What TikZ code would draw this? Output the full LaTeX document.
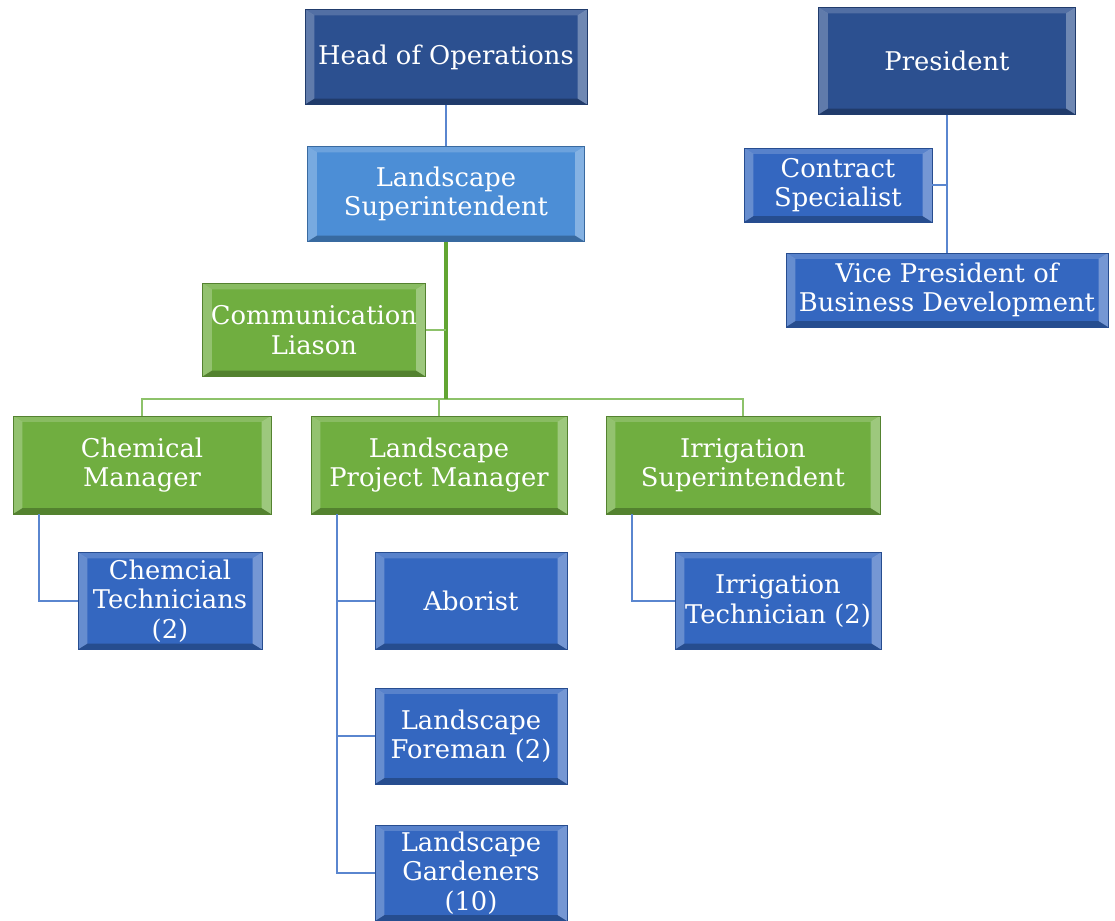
\documentclass[tikz,border=0pt]{standalone}
\usepackage{fontspec}
\setmainfont{DejaVu Serif}
\definecolor{darkblue}{HTML}{2C5090}
\definecolor{lightblue}{HTML}{4C8ED6}
\definecolor{midblue}{HTML}{3467C0}
\definecolor{leafgreen}{HTML}{70AE40}
\definecolor{blueline}{HTML}{5A86CF}
\definecolor{greenline}{HTML}{62A532}
\definecolor{palegreen}{HTML}{8DC26A}
\tikzset{
  bevel/.style={path picture={
    \fill[white,opacity=.18] (path picture bounding box.north west) -- (path picture bounding box.north east)
      -- ([xshift=-8pt,yshift=-5pt]path picture bounding box.north east) -- ([xshift=8pt,yshift=-5pt]path picture bounding box.north west) -- cycle;
    \fill[white,opacity=.25] (path picture bounding box.north west) -- ([xshift=8pt,yshift=-5pt]path picture bounding box.north west)
      -- ([xshift=8pt,yshift=5pt]path picture bounding box.south west) -- (path picture bounding box.south west) -- cycle;
    \fill[white,opacity=.32] (path picture bounding box.north east) -- ([xshift=-8pt,yshift=-5pt]path picture bounding box.north east)
      -- ([xshift=-8pt,yshift=5pt]path picture bounding box.south east) -- (path picture bounding box.south east) -- cycle;
    \fill[black,opacity=.25] (path picture bounding box.south west) -- (path picture bounding box.south east)
      -- ([xshift=-8pt,yshift=5pt]path picture bounding box.south east) -- ([xshift=8pt,yshift=5pt]path picture bounding box.south west) -- cycle;
  }},
  orgbox/.style={draw=#1!75!black, fill=#1, text=white, align=center, inner sep=0pt,
    font=\fontsize{22}{25}\selectfont, bevel},
  size/.style 2 args={minimum width=#1*0.03cm, minimum height=#2*0.03cm},
  bline/.style={draw=blueline, line width=1.7pt},
  gline/.style={draw=greenline, line width=3pt},
  pgline/.style={draw=palegreen, line width=1.7pt}
}
\begin{document}
\begin{tikzpicture}[x=0.03cm,y=-0.03cm]
\useasboundingbox (0,0) rectangle (1115,921);

\node[orgbox=darkblue, size={282}{95}] (head) at (446,57) {Head of Operations};
\node[orgbox=lightblue, size={277}{95}] (ls) at (446,194) {Landscape\\Superintendent};
\node[orgbox=darkblue, size={257}{107}] (pres) at (947,61) {President};
\node[orgbox=midblue, size={188}{74}] (cs) at (838,185) {Contract\\Specialist};
\node[orgbox=midblue, size={322}{74}] (vp) at (947,290) {Vice President of\\Business Development};
\node[orgbox=leafgreen, size={223}{93}] (cl) at (314,330) {Communication\\Liason};
\node[orgbox=leafgreen, size={258}{98}] (cm) at (142,465) {Chemical\\Manager};
\node[orgbox=leafgreen, size={256}{98}] (lpm) at (439,465) {Landscape\\Project Manager};
\node[orgbox=leafgreen, size={274}{98}] (is) at (743,465) {Irrigation\\Superintendent};
\node[orgbox=midblue, size={184}{97}] (ct) at (170,601) {Chemcial\\Technicians\\(2)};
\node[orgbox=midblue, size={192}{97}] (ab) at (471,601) {Aborist};
\node[orgbox=midblue, size={206}{97}] (it) at (778,601) {Irrigation\\Technician (2)};
\node[orgbox=midblue, size={192}{96}] (lf) at (471,736) {Landscape\\Foreman (2)};
\node[orgbox=midblue, size={192}{96}] (lg) at (471,873) {Landscape\\Gardeners\\(10)};

\coordinate (bar) at (446,399);
\coordinate (cmtrunk) at ([xshift=0.78cm]cm.south west);
\coordinate (lpmtrunk) at ([xshift=0.8cm]lpm.south west);
\coordinate (istrunk) at ([xshift=0.8cm]is.south west);

\draw[bline] (head) -- (ls);
\draw[pgline] (cm.north) |- (bar) -| (is.north);
\draw[pgline] (lpm.north) -- (lpm.north |- bar);
\draw[gline] (ls) -- (bar);
\draw[pgline] (cl.east) -- (cl.east -| bar);

\draw[bline] (cmtrunk) |- (ct.west);
\draw[bline] (lpmtrunk) |- (lg.west);
\draw[bline] (ab.west) -- (ab.west -| lpmtrunk);
\draw[bline] (lf.west) -- (lf.west -| lpmtrunk);
\draw[bline] (istrunk) |- (it.west);

\draw[bline] (pres) -- (vp);
\draw[bline] (cs.east) -- (cs.east -| pres.south);
\end{tikzpicture}
\end{document}
